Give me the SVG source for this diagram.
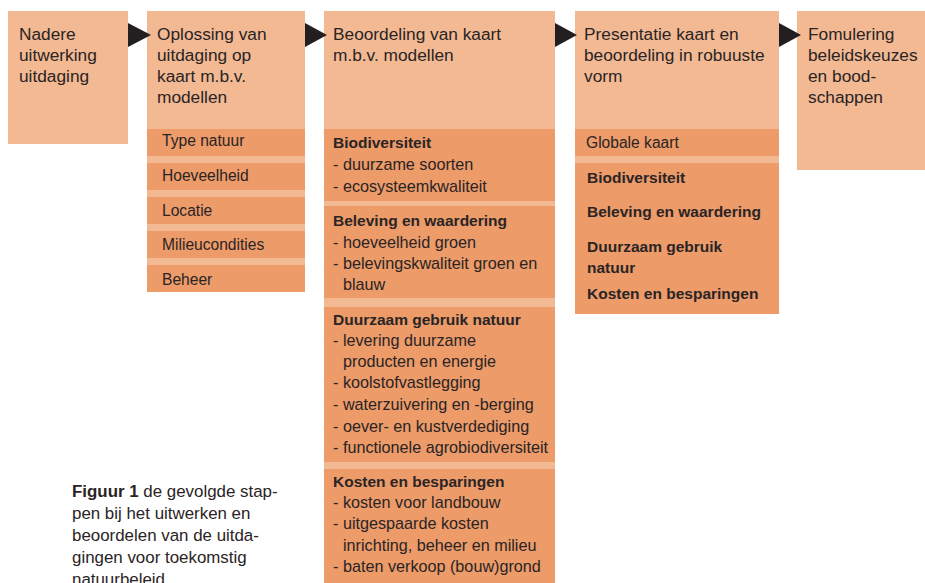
<svg xmlns="http://www.w3.org/2000/svg" width="925" height="583" viewBox="0 0 925 583">
<style>
.lt{fill:#F2B993}
.dk{fill:#EC9B69}
text{font-family:"Liberation Sans",Arial,sans-serif;fill:#2A2425}
.h{font-size:17.3px}
.i{font-size:15.6px}
.l{font-size:16.2px}
.b{font-size:15.5px;font-weight:bold}
.c{font-size:16.9px}
.arr{fill:#231F20}
</style>
<rect width="925" height="583" fill="#ffffff"/>

<g id="step1">
<rect class="lt" x="8" y="11" width="120" height="133"/>
<text class="h" x="19" y="40">Nadere</text>
<text class="h" x="19" y="61">uitwerking</text>
<text class="h" x="19" y="82">uitdaging</text>
</g>

<g id="step2">
<rect class="lt" x="147" y="11" width="158" height="281"/>
<text class="h" x="157" y="40">Oplossing van</text>
<text class="h" x="157" y="61">uitdaging op</text>
<text class="h" x="157" y="82">kaart m.b.v.</text>
<text class="h" x="157" y="103">modellen</text>
<rect class="dk" x="147" y="129" width="158" height="27"/>
<rect class="dk" x="147" y="163" width="158" height="27"/>
<rect class="dk" x="147" y="197" width="158" height="27"/>
<rect class="dk" x="147" y="231" width="158" height="27"/>
<rect class="dk" x="147" y="265" width="158" height="27"/>
<text class="i" x="162" y="146">Type natuur</text>
<text class="i" x="162" y="181">Hoeveelheid</text>
<text class="i" x="162" y="216">Locatie</text>
<text class="i" x="162" y="250">Milieucondities</text>
<text class="i" x="162" y="285">Beheer</text>
</g>

<g id="step3">
<rect class="lt" x="324" y="11" width="231" height="572"/>
<text class="h" x="333" y="40">Beoordeling van kaart</text>
<text class="h" x="333" y="61">m.b.v. modellen</text>
<rect class="dk" x="324" y="129" width="231" height="72"/>
<rect class="dk" x="324" y="206" width="231" height="92"/>
<rect class="dk" x="324" y="307" width="231" height="155"/>
<rect class="dk" x="324" y="469" width="231" height="114"/>
<text class="b" x="333" y="148">Biodiversiteit</text>
<text class="l" x="333" y="170">- duurzame soorten</text>
<text class="l" x="333" y="192">- ecosysteemkwaliteit</text>
<text class="b" x="333" y="226">Beleving en waardering</text>
<text class="l" x="333" y="248">- hoeveelheid groen</text>
<text class="l" x="333" y="269">- belevingskwaliteit groen en</text>
<text class="l" x="343" y="290">blauw</text>
<text class="b" x="333" y="325">Duurzaam gebruik natuur</text>
<text class="l" x="333" y="346">- levering duurzame</text>
<text class="l" x="343" y="367">producten en energie</text>
<text class="l" x="333" y="388">- koolstofvastlegging</text>
<text class="l" x="333" y="410">- waterzuivering en -berging</text>
<text class="l" x="333" y="432">- oever- en kustverdediging</text>
<text class="l" x="333" y="453">- functionele agrobiodiversiteit</text>
<text class="b" x="333" y="487">Kosten en besparingen</text>
<text class="l" x="333" y="508">- kosten voor landbouw</text>
<text class="l" x="333" y="529">- uitgespaarde kosten</text>
<text class="l" x="343" y="551">inrichting, beheer en milieu</text>
<text class="l" x="333" y="572">- baten verkoop (bouw)grond</text>
</g>

<g id="step4">
<rect class="lt" x="575" y="11" width="204" height="303"/>
<text class="h" x="584" y="40">Presentatie kaart en</text>
<text class="h" x="584" y="61">beoordeling in robuuste</text>
<text class="h" x="584" y="82">vorm</text>
<rect class="dk" x="575" y="129" width="204" height="27"/>
<rect class="dk" x="575" y="163" width="204" height="151"/>
<text class="i" x="586" y="148">Globale kaart</text>
<text class="b" x="587" y="183">Biodiversiteit</text>
<text class="b" x="587" y="217">Beleving en waardering</text>
<text class="b" x="587" y="252">Duurzaam gebruik</text>
<text class="b" x="587" y="273">natuur</text>
<text class="b" x="587" y="299">Kosten en besparingen</text>
</g>

<g id="step5">
<rect class="lt" x="797" y="11" width="128" height="159"/>
<text class="h" x="808" y="40">Fomulering</text>
<text class="h" x="808" y="61">beleidskeuzes</text>
<text class="h" x="808" y="82">en bood-</text>
<text class="h" x="808" y="103">schappen</text>
</g>

<g id="caption">
<text class="c" x="72" y="497"><tspan font-weight="bold">Figuur 1</tspan> de gevolgde stap-</text>
<text class="c" x="72" y="519">pen bij het uitwerken en</text>
<text class="c" x="72" y="541">beoordelen van de uitda-</text>
<text class="c" x="72" y="563">gingen voor toekomstig</text>
<text class="c" x="72" y="585">natuurbeleid</text>
</g>

<g id="connectors">
<polygon class="arr" points="128,23 151,35 128,47"/>
<polygon class="arr" points="305,23 327,35 305,47"/>
<polygon class="arr" points="555,23 577,35 555,47"/>
<polygon class="arr" points="779,23 801,35 779,47"/>
</g>
</svg>
